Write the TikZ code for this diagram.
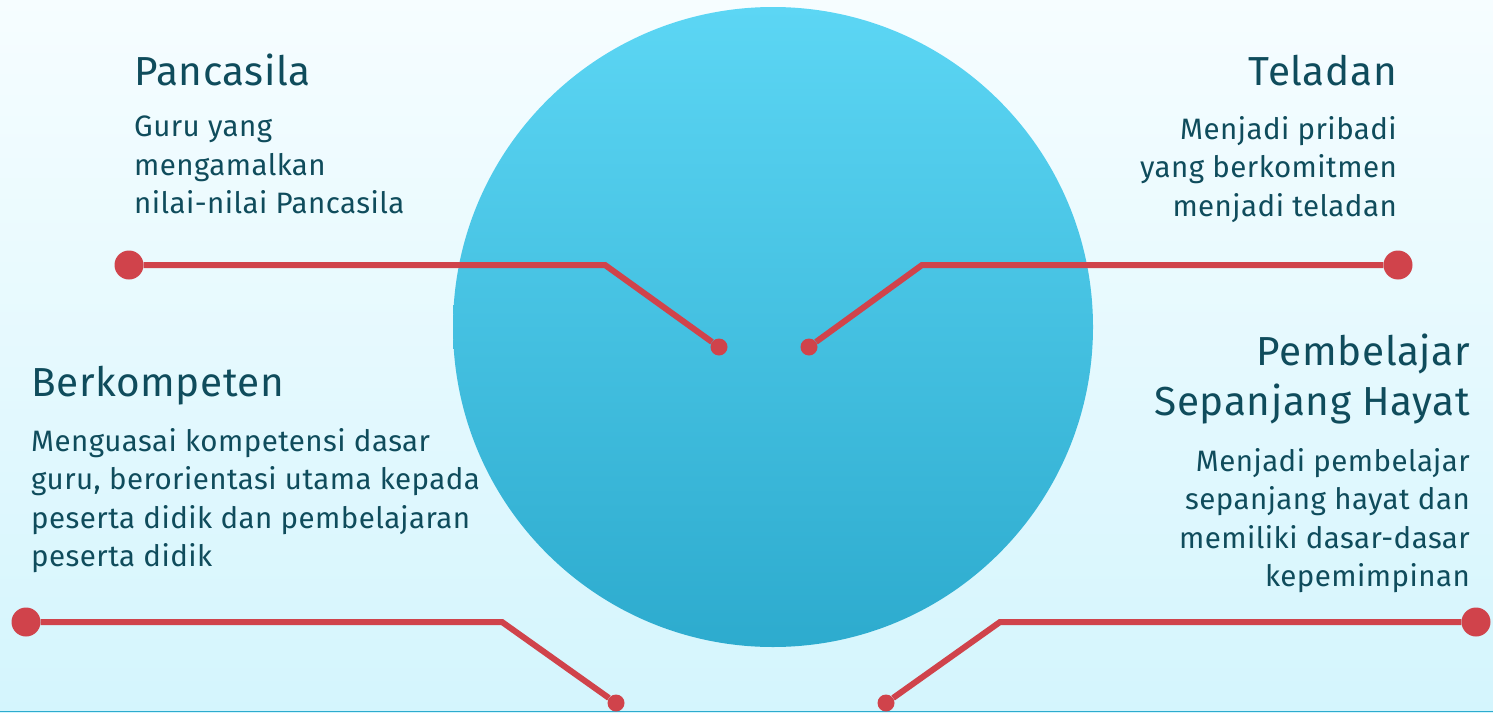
\documentclass[tikz,border=0pt]{standalone}
\usepackage{fontspec}
\setmainfont[LetterSpace=1.5]{Fira Sans}
\definecolor{bgtop}{HTML}{F6FDFF}
\definecolor{bgbot}{HTML}{D4F5FD}
\definecolor{balltop}{HTML}{5CD6F4}
\definecolor{ballbot}{HTML}{2DABCE}
\definecolor{pinred}{HTML}{D0434B}
\definecolor{ink}{HTML}{0F4C5C}
\tikzset{
  pinline/.style={draw=pinred,line width=6pt},
  bigdot/.style={circle,fill=pinred,minimum size=29pt,inner sep=0pt},
  smalldot/.style={circle,fill=pinred,minimum size=17pt,inner sep=0pt},
  headtext/.style={text=ink,inner sep=0pt,font=\fontsize{40.5}{50}\selectfont},
  bodytext/.style={text=ink,inner sep=0pt,font=\fontsize{29.5}{38.5}\selectfont}
}
\begin{document}
\begin{tikzpicture}[x=1pt,y=-1pt]
    \useasboundingbox (0,0) rectangle (1493,712);
    \shade[top color=bgtop,bottom color=bgbot] (0,0) rectangle (1493,712); %background
    \fill[ballbot] (0,710.5) rectangle (1493,712);
    \shade[top color=balltop,bottom color=ballbot] (773,327) circle (320);
    % dots
    \node[bigdot] (pancadot) at (129,265) {};
    \node[smalldot] (pancaend) at (719,347) {};
    \node[bigdot] (teladot) at (1398,265) {};
    \node[smalldot] (telaend) at (809,347) {};
    \node[bigdot] (kompdot) at (26,622) {};
    \node[smalldot] (kompend) at (616,703) {};
    \node[bigdot] (hayatdot) at (1476,622) {};
    \node[smalldot] (hayatend) at (886,703) {};
    \coordinate (pancabend) at (605,265);
    \coordinate (telabend) at (922,265);
    \coordinate (kompbend) at (502,622);
    \coordinate (hayatbend) at (1000,622);
    \draw[pinline] (pancadot) -- (pancabend) -- (pancaend);
    \draw[pinline] (teladot) -- (telabend) -- (telaend);
    \draw[pinline] (kompdot) -- (kompbend) -- (kompend);
    \draw[pinline] (hayatdot) -- (hayatbend) -- (hayatend);
    % texts
    \node[headtext,anchor=base west] (pancahead) at (134,85) {Pancasila};
    \node[bodytext,anchor=north west,align=left] (pancabody) at (134,116)
        {Guru yang\\mengamalkan\\nilai-nilai Pancasila};
    \node[headtext,anchor=base east] (telahead) at (1397,85) {Teladan};
    \node[bodytext,anchor=north east,align=right] (telabody) at (1397,116)
        {Menjadi pribadi\\yang berkomitmen\\menjadi teladan};
    \node[headtext,anchor=base west] (komphead) at (31,396) {Berkompeten};
    \node[bodytext,anchor=north west,align=left] (kompbody) at (31,428)
        {Menguasai kompetensi dasar\\guru, berorientasi utama kepada\\peserta didik dan pembelajaran\\peserta didik};
    \node[headtext,anchor=north east,align=right] (hayathead) at (1470,334)
        {Pembelajar\\Sepanjang Hayat};
    \node[bodytext,anchor=north east,align=right] (hayatbody) at (1470,448)
        {Menjadi pembelajar\\sepanjang hayat dan\\memiliki dasar-dasar\\kepemimpinan};
\end{tikzpicture}
\end{document}
